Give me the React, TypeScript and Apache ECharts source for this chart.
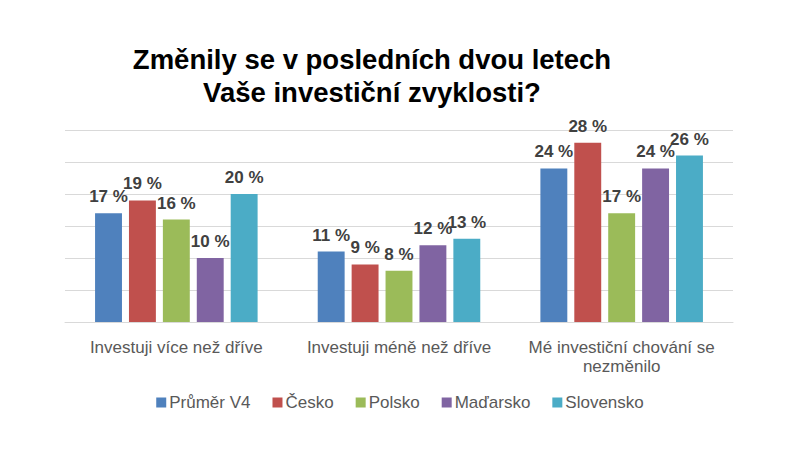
import React, { useEffect, useRef } from "react";
import * as echarts from "echarts";

const categories = [
  "Investuji více než dříve",
  "Investuji méně než dříve",
  "Mé investiční chování se\nnezměnilo",
];
const seriesNames = ["Průměr V4", "Česko", "Polsko", "Maďarsko", "Slovensko"];
const prumerV4 = [17, 11, 24];
const cesko = [19, 9, 28];
const polsko = [16, 8, 17];
const madarsko = [10, 12, 24];
const slovensko = [20, 13, 26];
const colors = ["#4F81BD", "#C0504D", "#9BBB59", "#8064A2", "#4BACC6"];
const titleLines = ["Změnily se v posledních dvou letech", "Vaše investiční zvyklosti?"];

export default function App() {
  const ref = useRef<HTMLDivElement>(null);
  useEffect(() => {
    document.body.style.margin = "0";
    const chart = echarts.init(ref.current!, null, { renderer: "svg" });
    const values = [prumerV4, cesko, polsko, madarsko, slovensko];
    const font = "'Liberation Sans', Arial, sans-serif";
    chart.setOption({
      animation: false,
      backgroundColor: "#ffffff",
      color: colors,
      title: {
        text: titleLines.join("\n"),
        left: 367,
        top: 38,
        textAlign: "center",
        textStyle: {
          fontFamily: font,
          fontSize: 27.5,
          fontWeight: "bold",
          color: "#000000",
          lineHeight: 33,
        },
      },
      legend: {
        bottom: 34,
        left: "center",
        itemWidth: 10,
        itemHeight: 10,
        itemGap: 22,
        icon: "rect",
        textStyle: { fontFamily: font, fontSize: 17, color: "#595959", padding: [0, 0, 0, -2] },
        data: seriesNames,
      },
      grid: { left: 65, right: 67, top: 130, bottom: 128, containLabel: false },
      xAxis: {
        type: "category",
        data: categories,
        axisLine: { show: true, lineStyle: { color: "#D9D9D9" } },
        axisTick: { show: false },
        axisLabel: {
          fontFamily: font,
          fontSize: 17,
          color: "#595959",
          lineHeight: 19,
          margin: 16,
          interval: 0,
        },
      },
      yAxis: {
        type: "value",
        min: 0,
        max: 30,
        interval: 5,
        axisLabel: { show: false },
        axisLine: { show: false },
        axisTick: { show: false },
        splitLine: { lineStyle: { color: "#D9D9D9" } },
      },
      series: seriesNames.map((name, i) => ({
        name,
        type: "bar",
        data: values[i],
        barGap: "26%",
        barCategoryGap: "27%",
        itemStyle: { color: colors[i] },
        label: {
          show: true,
          position: "top",
          distance: 8,
          formatter: "{c} %",
          fontFamily: font,
          fontSize: 17,
          fontWeight: "bold",
          color: "#404040",
        },
      })),
    });
    return () => chart.dispose();
  }, []);
  return <div ref={ref} style={{ width: 800, height: 450 }} />;
}
